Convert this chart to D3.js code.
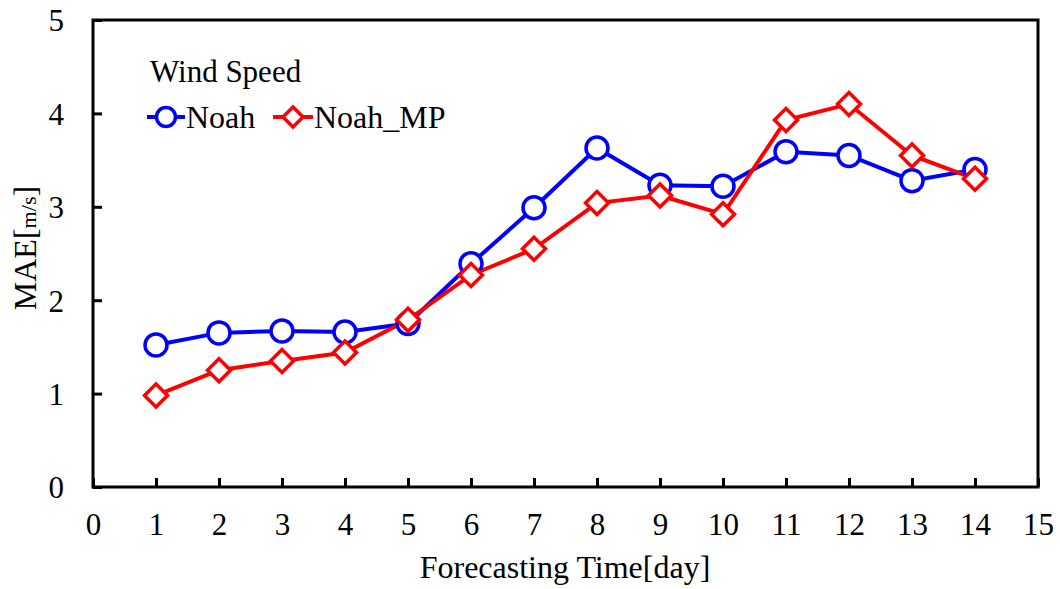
<!DOCTYPE html>
<html><head><meta charset="utf-8">
<script src="https://cdn.jsdelivr.net/npm/d3@7"></script>
<style>body{margin:0;background:#fff}</style>
</head><body>
<svg id="c" width="1060" height="589"></svg>
<script>
const days = [1,2,3,4,5,6,7,8,9,10,11,12,13,14];
const noah = [1.52,1.65,1.67,1.66,1.75,2.39,2.99,3.63,3.23,3.22,3.59,3.55,3.28,3.40];
const noahMP = [0.98,1.25,1.35,1.44,1.79,2.27,2.55,3.04,3.12,2.92,3.93,4.10,3.55,3.30];
const xTicks = [0,1,2,3,4,5,6,7,8,9,10,11,12,13,14,15];
const yTicks = [0,1,2,3,4,5];
const legendTitle = "Wind Speed";
const seriesNames = ["Noah","Noah_MP"];

const svg = d3.select("#c");
const L=93,T=20,R=1038,B=487;
const font = "Liberation Serif, Times New Roman, serif";
const x = d3.scaleLinear().domain([0,15]).range([L,R]);
const y = d3.scaleLinear().domain([0,5]).range([B,T]);

// frame
svg.append("rect").attr("x",L).attr("y",T).attr("width",R-L).attr("height",B-T)
  .attr("fill","none").attr("stroke","#000").attr("stroke-width",3);

const fmt = d3.format("d");
const xa = svg.append("g").attr("transform",`translate(0,${B})`)
  .call(d3.axisBottom(x).tickValues(xTicks).tickFormat(fmt).tickSizeInner(-9).tickSizeOuter(0));
const ya = svg.append("g").attr("transform",`translate(${L},0)`)
  .call(d3.axisLeft(y).tickValues(yTicks).tickFormat(fmt).tickSizeInner(-9).tickSizeOuter(0));
[xa,ya].forEach(a=>{
  a.select(".domain").remove();
  a.selectAll("line").attr("stroke","#000").attr("stroke-width",3);
  a.selectAll("text").attr("font-family",font).attr("font-size",31).attr("fill","#000");
});
xa.selectAll("text").attr("y",48).attr("dy",0);
ya.selectAll("text").attr("x",-29).attr("dy","0.35em");

// axis titles
svg.append("text").attr("x",565).attr("y",578).attr("text-anchor","middle")
  .attr("font-family",font).attr("font-size",32).text("Forecasting Time[day]");
const yl = svg.append("text").attr("transform",`translate(36,248) rotate(-90)`)
  .attr("text-anchor","middle").attr("font-family",font).attr("font-size",32);
yl.append("tspan").text("MAE[");
yl.append("tspan").attr("font-size",22).attr("textLength",32).attr("lengthAdjust","spacingAndGlyphs").text("m/s");
yl.append("tspan").text("]");

const line = d3.line().x((d,i)=>x(days[i])).y(d=>y(d));
svg.append("path").datum(noah).attr("d",line).attr("fill","none").attr("stroke","#0000ff").attr("stroke-width",4);
svg.append("path").datum(noahMP).attr("d",line).attr("fill","none").attr("stroke","#ff0000").attr("stroke-width",4);

const diamond = s=>`M0,${-s}L${s},0L0,${s}L${-s},0Z`;
svg.selectAll(".c").data(noah).enter().append("circle")
  .attr("cx",(d,i)=>x(days[i])).attr("cy",d=>y(d)).attr("r",11)
  .attr("fill","#fff").attr("stroke","#0000ff").attr("stroke-width",3.5);
svg.selectAll(".d").data(noahMP).enter().append("path")
  .attr("transform",(d,i)=>`translate(${x(days[i])},${y(d)})`).attr("d",diamond(11.5))
  .attr("fill","#fff").attr("stroke","#ff0000").attr("stroke-width",3.5);

// legend
svg.append("text").attr("x",150).attr("y",82).attr("font-family",font).attr("font-size",31).text(legendTitle);
const ly=117;
svg.append("line").attr("x1",147).attr("x2",185).attr("y1",ly).attr("y2",ly).attr("stroke","#0000ff").attr("stroke-width",4);
svg.append("circle").attr("cx",166).attr("cy",ly).attr("r",9.5).attr("fill","#fff").attr("stroke","#0000ff").attr("stroke-width",3.5);
svg.append("text").attr("x",186).attr("y",ly+11).attr("font-family",font).attr("font-size",32).text(seriesNames[0]);
svg.append("line").attr("x1",273).attr("x2",313).attr("y1",ly).attr("y2",ly).attr("stroke","#ff0000").attr("stroke-width",4);
svg.append("path").attr("transform",`translate(293,${ly})`).attr("d",diamond(10)).attr("fill","#fff").attr("stroke","#ff0000").attr("stroke-width",3.5);
svg.append("text").attr("x",314).attr("y",ly+11).attr("font-family",font).attr("font-size",32).text(seriesNames[1]);
</script>
</body></html>
